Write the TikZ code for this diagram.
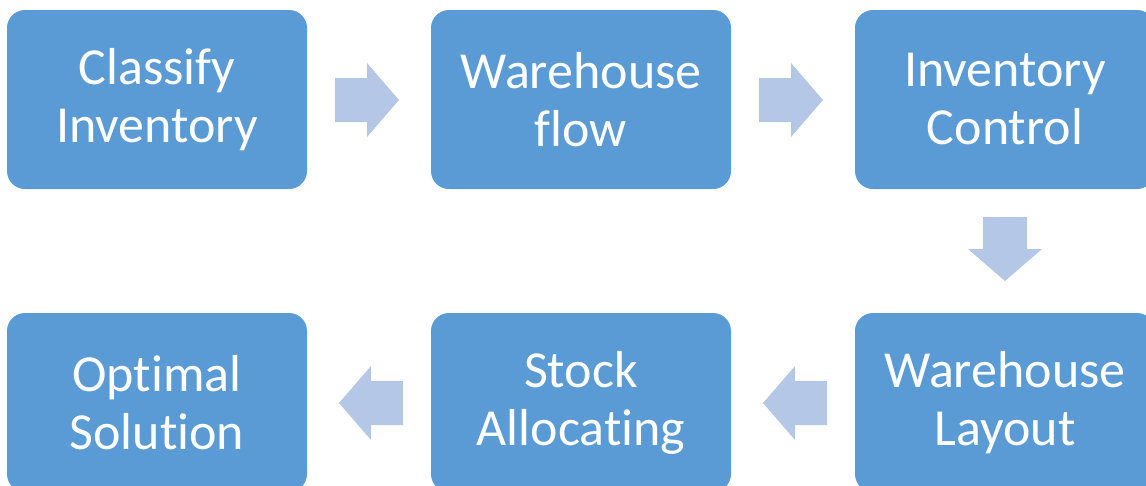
\documentclass[tikz,border=0pt]{standalone}
\usepackage{fontspec}
\setmainfont[Ligatures={NoCommon}]{Carlito}
\definecolor{boxblue}{HTML}{5B9BD5}
\definecolor{arrowblue}{HTML}{B4C7E7}
\begin{document}
\begin{tikzpicture}[x=1pt,y=-1pt,
  stepbox/.style={fill=boxblue,draw=none,rounded corners=18pt,minimum width=300pt,minimum height=179pt,
    align=center,text=white,font=\fontsize{52}{58}\selectfont,inner sep=0pt},
  blockarrow/.style={fill=arrowblue,draw=none}]
\useasboundingbox (0,0) rectangle (1146,485);
\clip (0,0) rectangle (1146,485);
\node[stepbox] (a) at (157,99.5) {Classify\\Inventory};
\node[stepbox] (b) at (581,99.5) {Warehouse\\flow};
\node[stepbox] (c) at (1005,99.5) {Inventory\\Control};
\node[stepbox] (d) at (1005,402.5) {Warehouse\\Layout};
\node[stepbox] (e) at (581,402.5) {Stock\\Allocating};
\node[stepbox] (f) at (157,402.5) {Optimal\\Solution};
\newcommand{\barrow}[3]{%
  \begin{scope}[shift={(#1,#2)},rotate=#3]
  \fill[blockarrow] (-64,-22) -- (-32,-22) -- (-32,-37) -- (0,0) -- (-32,37) -- (-32,22) -- (-64,22) -- cycle;
  \end{scope}}
\barrow{399}{100}{0}
\barrow{823}{100}{0}
\barrow{1005}{281}{-90}
\barrow{763}{403}{180}
\barrow{339}{403}{180}
\end{tikzpicture}
\end{document}
